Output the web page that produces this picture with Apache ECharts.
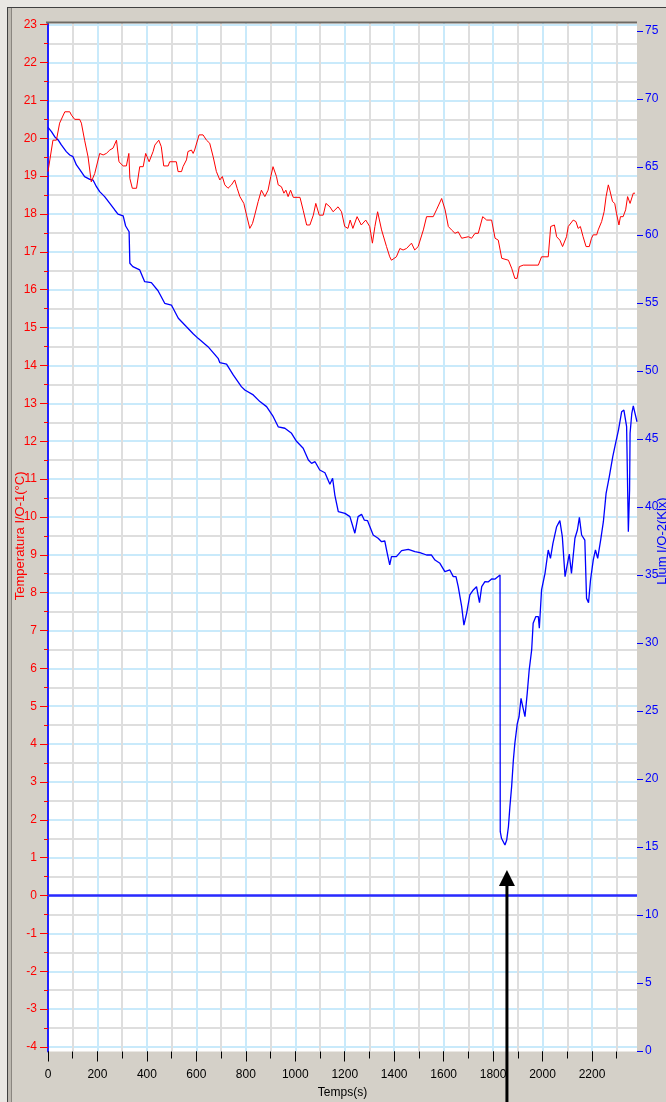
<!DOCTYPE html>
<html><head><meta charset="utf-8">
<script src="https://cdn.jsdelivr.net/npm/echarts@6/dist/echarts.min.js"></script>
<style>html,body{margin:0;padding:0;background:#d4d0c8}#c{width:666px;height:1102px}</style>
</head><body><div id="c"></div>
<script>
// ---- data ----
const tempTime = [0,20,34,47,68,88,95,108,128,135,148,162,175,189,209,223,236,250,263,277,287,304,317,327,331,341,358,371,385,395,409,425,432,448,458,468,486,492,519,526,540,546,560,566,580,587,593,611,627,641,654,668,681,695,705,715,728,742,755,765,776,792,803,816,827,836,850,863,877,890,901,910,924,931,944,954,962,971,981,992,1019,1032,1046,1059,1073,1083,1097,1113,1124,1140,1153,1173,1187,1200,1213,1222,1233,1250,1267,1285,1301,1312,1322,1333,1349,1369,1382,1389,1409,1423,1436,1450,1470,1483,1497,1518,1531,1558,1571,1592,1606,1619,1632,1646,1659,1673,1700,1713,1727,1740,1758,1774,1794,1808,1821,1835,1862,1875,1888,1897,1906,1922,1983,1996,2023,2033,2048,2057,2070,2081,2097,2104,2124,2135,2144,2153,2164,2176,2189,2198,2205,2219,2225,2239,2249,2257,2266,2272,2283,2292,2299,2309,2315,2326,2336,2344,2354,2360,2367,2374];
const tempValues = [19.12,19.95,19.95,20.40,20.70,20.70,20.61,20.50,20.50,20.40,19.95,19.51,18.85,19.07,19.60,19.56,19.60,19.69,19.74,19.95,19.38,19.27,19.27,19.60,18.94,18.68,18.68,19.25,19.25,19.60,19.38,19.65,19.82,19.95,19.78,19.27,19.27,19.38,19.38,19.12,19.12,19.25,19.43,19.65,19.69,19.60,19.69,20.09,20.09,19.95,19.87,19.51,19.12,18.90,18.99,18.77,18.68,18.77,18.90,18.68,18.46,18.28,17.97,17.62,17.75,17.97,18.33,18.63,18.46,18.63,18.99,19.25,18.99,18.77,18.72,18.55,18.63,18.46,18.63,18.44,18.44,18.10,17.71,17.71,17.97,18.28,17.97,17.97,18.28,18.19,18.06,18.19,18.06,17.67,17.62,17.84,17.62,17.93,17.71,17.84,17.67,17.23,17.67,18.06,17.58,17.14,16.87,16.78,16.87,17.09,17.05,17.09,17.23,17.05,17.14,17.58,17.93,17.93,18.11,18.41,18.11,17.67,17.58,17.49,17.53,17.36,17.40,17.36,17.49,17.49,17.93,17.84,17.84,17.36,17.31,16.83,16.78,16.57,16.30,16.30,16.61,16.65,16.65,16.87,16.87,17.67,17.71,17.40,17.31,17.14,17.40,17.67,17.84,17.80,17.62,17.67,17.40,17.14,17.14,17.36,17.45,17.45,17.58,17.80,18.06,18.46,18.77,18.63,18.33,18.28,18.02,17.71,17.93,17.93,18.11,18.46,18.28,18.28,18.55,18.55];
const lightTime = [0,14,27,41,54,74,88,101,115,128,148,169,182,196,209,229,250,270,283,304,314,328,331,343,371,391,418,445,472,499,527,560,587,607,647,688,695,722,749,782,796,830,857,884,911,931,958,985,1005,1032,1053,1066,1080,1099,1120,1140,1151,1160,1174,1201,1221,1241,1254,1268,1279,1292,1315,1335,1349,1362,1372,1382,1389,1409,1430,1457,1484,1504,1531,1551,1565,1585,1605,1625,1639,1650,1659,1673,1682,1693,1706,1720,1733,1745,1754,1767,1781,1794,1808,1828,1829,1834,1848,1855,1862,1868,1875,1882,1888,1898,1905,1913,1920,1929,1938,1946,1956,1962,1973,1983,1987,1996,2010,2023,2032,2042,2057,2070,2080,2091,2097,2108,2117,2131,2141,2149,2158,2171,2178,2186,2194,2205,2214,2223,2235,2246,2257,2270,2284,2294,2307,2320,2329,2340,2347,2352,2354,2361,2367,2374,2382];
const lightValues = [67.92,67.6,67.23,66.99,66.62,66.13,65.88,65.76,65.15,64.83,64.29,64.09,64.04,63.55,63.19,62.82,62.33,61.84,61.54,61.40,60.66,60.24,57.92,57.67,57.43,56.57,56.5,55.9,54.98,54.85,53.88,53.25,52.74,52.4,51.79,50.93,50.61,50.51,49.71,48.85,48.60,48.24,47.75,47.38,46.64,45.90,45.79,45.42,44.83,44.32,43.46,43.21,43.33,42.72,42.52,41.68,42.11,40.88,39.66,39.53,39.29,38.07,39.29,39.46,39.04,39.0,37.94,37.70,37.45,37.5,36.59,35.74,36.35,36.35,36.79,36.89,36.72,36.64,36.47,36.47,36.10,35.86,35.25,35.37,34.88,34.88,34.14,32.67,31.32,32.18,33.53,33.90,34.14,32.97,34.14,34.51,34.5,34.71,34.7,35.0,16.13,15.64,15.15,15.51,16.49,17.97,19.44,21.40,22.62,24.09,24.58,25.93,25.32,24.58,26.30,28.01,29.49,31.45,31.94,31.94,31.08,33.90,35.12,36.84,36.23,37.33,38.55,39.0,37.82,34.88,34.9,36.54,35.12,37.70,38.31,39.24,37.94,37.57,33.28,32.97,34.63,36.10,36.84,36.23,37.57,38.92,41.0,42.23,43.70,44.56,45.66,47.01,47.13,45.91,38.19,41.25,45.42,46.89,47.43,46.89,46.27];
const xTickValues = [0,100,200,300,400,500,600,700,800,900,1000,1100,1200,1300,1400,1500,1600,1700,1800,1900,2000,2100,2200,2300];
const xLabelValues = [0,200,400,600,800,1000,1200,1400,1600,1800,2000,2200];
const X_MAX = 2382;
const TEMP_MIN = -4, TEMP_MAX = 23;
const LIGHT_MIN = 0, LIGHT_MAX = 75;
const ZERO_LINE = 0;
const ARROW_TIME = 1856, ARROW_TIP_LIGHT = 13.3;

// ---- chart ----
const FONT = '"Liberation Sans", Arial, sans-serif';
const chart = echarts.init(document.getElementById('c'), null, {renderer: 'canvas'});
const zip = (a, b) => a.map((v, i) => [v, b[i]]);
const BLUE_GRID = '#c9eafb', GREY_GRID = '#dedede';
const plain = v => String(v);

const frame = [
  {id:'lt', type:'rect', shape:{x:0,y:0,width:666,height:7}, style:{fill:'#e9e7e3'}, z:1},
  {id:'ll', type:'rect', shape:{x:0,y:0,width:7,height:1102}, style:{fill:'#e9e7e3'}, z:1},
  {id:'dt', type:'rect', shape:{x:7,y:7,width:659,height:1}, style:{fill:'#404040'}, z:1},
  {id:'dl', type:'rect', shape:{x:7,y:7,width:1,height:1095}, style:{fill:'#404040'}, z:1},
  {id:'gl', type:'rect', shape:{x:8,y:8,width:3,height:1094}, style:{fill:'#bcb8b0'}, z:1},
  {id:'gl2', type:'rect', shape:{x:11,y:8,width:1,height:1094}, style:{fill:'#8a8680'}, z:1},
  {id:'top', type:'rect', shape:{x:46,y:21.5,width:591,height:2}, style:{fill:'#6e6a64'}, z:50}
];

const gridBase = {left:48, width:589, containLabel:false, outerBoundsMode:'none'};

chart.setOption({
  animation: false,
  backgroundColor: '#d4d0c8',
  textStyle: {fontFamily: FONT},
  grid: [
    Object.assign({top:23, height:1028.5, show:true, backgroundColor:'#ffffff', borderWidth:0}, gridBase),
    Object.assign({top:24.7, height:1022.3, show:false}, gridBase),
    Object.assign({top:31, height:1020, show:false}, gridBase)
  ],
  xAxis: [
    {gridIndex:0, type:'value', position:'bottom', min:0, max:X_MAX, interval:100,
     axisLine:{show:false, onZero:false},
     splitLine:{show:true, lineStyle:{color:[BLUE_GRID, GREY_GRID], width:2}},
     axisTick:{show:true, customValues:xTickValues, length:7, lineStyle:{color:'#000', width:1}},
     axisLabel:{show:true, customValues:xLabelValues, formatter:plain, margin:17, color:'#000', fontFamily:FONT, fontSize:12},
     name:'Temps(s)', nameLocation:'middle', nameGap:35, nameMoveOverlap:false,
     nameTextStyle:{color:'#000', fontFamily:FONT, fontSize:12}},
    {gridIndex:0, type:'value', position:'bottom', min:0, max:X_MAX, interval:100,
     axisLine:{show:false, onZero:false}, splitLine:{show:false}, axisLabel:{show:false},
     axisTick:{show:true, customValues:xLabelValues, length:10, lineStyle:{color:'#000', width:1}}},
    {gridIndex:1, type:'value', min:0, max:X_MAX, show:false},
    {gridIndex:2, type:'value', min:0, max:X_MAX, show:false}
  ],
  yAxis: [
    {gridIndex:0, type:'value', min:0, max:1, position:'left',
     axisLine:{show:true, onZero:false, lineStyle:{color:'#2020ff', width:2}},
     axisTick:{show:false}, axisLabel:{show:false}, splitLine:{show:false}},
    {gridIndex:1, type:'value', min:TEMP_MIN, max:TEMP_MAX, interval:1, position:'left',
     axisLine:{show:false, onZero:false},
     axisTick:{show:true, length:8, lineStyle:{color:'#ff0000', width:1}},
     minorTick:{show:true, splitNumber:2, length:4, lineStyle:{color:'#ff0000', width:1}},
     splitLine:{show:true, lineStyle:{color:BLUE_GRID, width:2}},
     minorSplitLine:{show:true, lineStyle:{color:GREY_GRID, width:2}},
     axisLabel:{color:'#ff0000', margin:11, fontFamily:FONT, fontSize:12},
     name:'Temperatura I/O-1(°C)', nameLocation:'middle', nameGap:21, nameMoveOverlap:false,
     nameTextStyle:{color:'#ff0000', fontFamily:FONT, fontSize:13}},
    {gridIndex:2, type:'value', min:LIGHT_MIN, max:LIGHT_MAX, interval:5, position:'right',
     axisLine:{show:false, onZero:false},
     axisTick:{show:true, length:6, lineStyle:{color:'#0000ff', width:1}},
     splitLine:{show:false},
     axisLabel:{color:'#0000ff', margin:8, fontFamily:FONT, fontSize:12},
     name:'Llum I/O-2(Klx)', nameLocation:'middle', nameGap:19, nameMoveOverlap:false,
     nameTextStyle:{color:'#0000ff', fontFamily:FONT, fontSize:13}}
  ],
  series: [
    {type:'line', name:'Temperatura', xAxisIndex:2, yAxisIndex:1, data:zip(tempTime, tempValues),
     showSymbol:false, lineStyle:{color:'#ff0000', width:1}, itemStyle:{color:'#ff0000'}, z:5,
     markLine:{silent:true, symbol:['none','none'], label:{show:false},
       lineStyle:{color:'#2a2aff', width:2.5, type:'solid'}, data:[{yAxis:ZERO_LINE}]}},
    {type:'line', name:'Llum', xAxisIndex:3, yAxisIndex:2, data:zip(lightTime, lightValues),
     showSymbol:false, lineStyle:{color:'#0000ff', width:1.3}, itemStyle:{color:'#0000ff'}, z:4}
  ],
  graphic: frame
});

const ax = chart.convertToPixel({xAxisIndex:3}, ARROW_TIME);
const tipY = chart.convertToPixel({yAxisIndex:2}, ARROW_TIP_LIGHT);
chart.setOption({graphic: frame.concat([
  {id:'shaft', type:'rect', shape:{x:ax-1.5, y:tipY+14, width:3, height:1102-tipY}, style:{fill:'#000'}, z:60},
  {id:'head', type:'polygon', shape:{points:[[ax, tipY],[ax-8, tipY+16],[ax+8, tipY+16]]}, style:{fill:'#000'}, z:60}
])});
</script>
</body></html>
